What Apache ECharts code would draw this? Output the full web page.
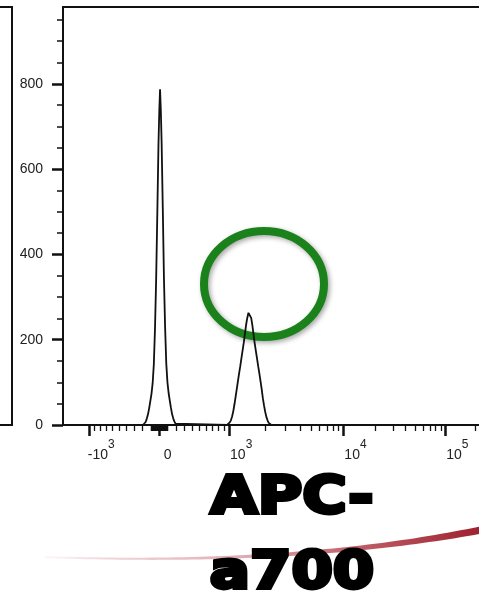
<!DOCTYPE html>
<html>
<head>
<meta charset="utf-8">
<title>APC-a700</title>
<script src="https://cdn.jsdelivr.net/npm/echarts@6/dist/echarts.min.js"></script>
<style>
  html, body { margin: 0; padding: 0; background: #ffffff; }
  #chart { width: 479px; height: 598px; }
</style>
</head>
<body>
<div id="chart"></div>
<script>
// Biexponential (logicle) display of the APC-a700 parameter
const TOP_OF_SCALE = 262144;   // largest data value on the axis
const SCALE_DECADES = 4.03;    // width of the display in decades
const LINEAR_DECADES = 0.716;  // width of the linear region around zero
const DISPLAY_CHANNELS = 1024; // histogram resolution
const X_LOW = -1670;           // data value at the left edge of the plot

// Histogram: display channel -> number of events
const channels = [
  0, 140, 144, 147, 150, 153, 156, 159, 162, 165, 168, 171, 174, 177, 180, 182,
  184, 186, 188, 191, 194, 197, 200, 203, 206, 209, 212, 215, 218, 221, 224, 228,
  356, 360, 363, 366, 369, 372, 375, 378, 381, 384, 387, 390, 393, 396, 399, 402,
  405, 408, 411, 413, 415, 418, 421, 424, 427, 430, 433, 436, 439, 442, 445, 448,
  451, 454, 457, 460, 463, 466, 470, 1023
];
const counts = [
  0, 0, 2, 7, 15, 25, 39, 56, 73, 98, 142, 225, 342, 497, 660, 735,
  787, 738, 664, 510, 345, 228, 144, 100, 75, 57, 40, 25, 15, 8, 3, 0,
  0, 3, 6, 11, 20, 32, 48, 66, 84, 103, 121, 138, 157, 175, 193, 214,
  235, 251, 263, 267, 264, 251, 234, 213, 192, 174, 156, 138, 121, 103, 84, 63,
  46, 31, 19, 11, 5, 2, 0, 0
];

// Axis ticks
const xMajorValues = [-1000, 0, 1000, 10000, 100000];
const xMajorBase = ['-10', '0', '10', '10', '10'];
const xMajorExp = ['3', '', '3', '4', '5'];
const yMajorValues = [0, 200, 400, 600, 800];
const yMinorValues = [50, 100, 150, 250, 300, 350, 450, 500, 550, 650, 700, 750, 850, 900, 950];
const Y_MAX = 980;

const AXIS_TITLE = ['APC-', 'a700'];

// ---- logicle transform ----
const LN10 = Math.LN10;
const wNat = LINEAR_DECADES * LN10;
const mNat = SCALE_DECADES * LN10;

function solveP(w) {
  let lo = 1, hi = 100;
  for (let i = 0; i < 200; i++) {
    const mid = (lo + hi) / 2;
    const v = 2 * mid * Math.log(mid) / (mid + 1);
    if (v < w) lo = mid; else hi = mid;
  }
  return (lo + hi) / 2;
}
const P = solveP(wNat);
const SCALE_C = TOP_OF_SCALE * Math.exp(-(mNat - wNat));

// display offset from zero (natural units) -> data value
function biex(u) {
  const a = Math.abs(u);
  const v = SCALE_C * (Math.exp(a) - P * P * Math.exp(-a / P) + P * P - 1);
  return u < 0 ? -v : v;
}
// data value -> display channel
function toChannel(x) {
  let lo = -mNat, hi = mNat;
  for (let i = 0; i < 200; i++) {
    const mid = (lo + hi) / 2;
    if (biex(mid) < x) lo = mid; else hi = mid;
  }
  const u = (lo + hi) / 2;
  return (u + wNat) / mNat * DISPLAY_CHANNELS;
}

// minor ticks: tenths of each decade, mirrored below zero in the linear part
function minorTickValues() {
  const pos = [];
  for (let k = 1; k <= 9; k++) pos.push(k * 10);
  for (let k = 1; k <= 9; k++) pos.push(k * 100);
  for (let k = 2; k <= 9; k++) pos.push(k * 1000);
  for (let k = 2; k <= 9; k++) pos.push(k * 10000);
  pos.push(200000);
  const neg = pos.filter(v => v < 1000).map(v => -v);
  return neg.concat(pos);
}

const xMin = toChannel(X_LOW);
const xMax = toChannel(TOP_OF_SCALE);
const xMajorCh = xMajorValues.map(toChannel);
const xMinorCh = minorTickValues().map(toChannel);

function xLabel(val) {
  let best = 0;
  xMajorCh.forEach((c, i) => { if (Math.abs(c - val) < Math.abs(xMajorCh[best] - val)) best = i; });
  if (!xMajorExp[best]) return '{z|' + xMajorBase[best] + '}';
  return '{b|' + xMajorBase[best] + '}{s|' + xMajorExp[best] + '}';
}

// red swoosh under the axis title
function swooshPoints() {
  const P0 = [45, 557], P1 = [300, 566], P2 = [486, 529];
  const N = 60, upper = [], lower = [];
  for (let i = 0; i <= N; i++) {
    const t = i / N;
    const x = (1 - t) * (1 - t) * P0[0] + 2 * (1 - t) * t * P1[0] + t * t * P2[0];
    const y = (1 - t) * (1 - t) * P0[1] + 2 * (1 - t) * t * P1[1] + t * t * P2[1];
    const dx = 2 * (1 - t) * (P1[0] - P0[0]) + 2 * t * (P2[0] - P1[0]);
    const dy = 2 * (1 - t) * (P1[1] - P0[1]) + 2 * t * (P2[1] - P1[1]);
    const len = Math.hypot(dx, dy);
    const nx = -dy / len, ny = dx / len;
    const h = 0.9 + 2.8 * Math.pow(t, 1.6);
    upper.push([x + nx * h, y + ny * h]);
    lower.push([x - nx * h, y - ny * h]);
  }
  return upper.concat(lower.reverse());
}

const LABEL_FONT = '"Liberation Sans", Arial, sans-serif';
const TITLE_FONT = 'bold 62px "DejaVu Sans", sans-serif';
const INK = '#111111';

const chart = echarts.init(document.getElementById('chart'), null, { renderer: 'canvas' });

// heavy two-line axis title, slightly condensed vertically
const titleText = (text, y, sx) => ({
  type: 'text', z: 3, x: 292, y: y, scaleX: sx, scaleY: 0.84,
  style: {
    text: text, x: 0, y: 0, font: TITLE_FONT,
    fill: '#000', stroke: '#000', lineWidth: 4.5, lineJoin: 'round',
    textAlign: 'center', textVerticalAlign: 'middle'
  }
});

chart.setOption({
  animation: false,
  backgroundColor: '#ffffff',
  grid: {
    left: 63, right: -8, top: 7, bottom: 173,
    show: true, borderColor: INK, borderWidth: 2, backgroundColor: 'transparent',
    containLabel: false, outerBoundsMode: 'none'
  },
  xAxis: [
    {
      type: 'value', position: 'bottom', min: xMin, max: xMax, gridIndex: 0,
      axisLine: { show: true, onZero: false, lineStyle: { color: INK, width: 2 } },
      axisTick: { show: true, customValues: xMajorCh, length: 11, lineStyle: { color: INK, width: 2.5 } },
      axisLabel: {
        show: true, customValues: xMajorCh, margin: 14, formatter: xLabel,
        rich: {
          b: { fontSize: 14, fontFamily: LABEL_FONT, color: '#222', lineHeight: 32, padding: [0, 0, 0, 24] },
          s: { fontSize: 12, fontFamily: LABEL_FONT, color: '#222', verticalAlign: 'top' },
          z: { fontSize: 14, fontFamily: LABEL_FONT, color: '#222', lineHeight: 32, padding: [0, 0, 0, 17] }
        }
      },
      splitLine: { show: false }
    },
    {
      type: 'value', position: 'bottom', min: xMin, max: xMax, gridIndex: 0,
      axisLine: { show: false, onZero: false },
      axisTick: { show: true, customValues: xMinorCh, length: 6, lineStyle: { color: INK, width: 1.3 } },
      axisLabel: { show: false },
      splitLine: { show: false }
    }
  ],
  yAxis: [
    {
      type: 'value', position: 'left', min: 0, max: Y_MAX, gridIndex: 0,
      axisLine: { show: true, onZero: false, lineStyle: { color: INK, width: 2 } },
      axisTick: { show: true, customValues: yMajorValues, length: 11, lineStyle: { color: INK, width: 2.5 } },
      axisLabel: {
        show: true, customValues: yMajorValues, margin: 20,
        fontSize: 14, fontFamily: LABEL_FONT, color: '#222'
      },
      splitLine: { show: false }
    },
    {
      type: 'value', position: 'left', min: 0, max: Y_MAX, gridIndex: 0,
      axisLine: { show: false, onZero: false },
      axisTick: { show: true, customValues: yMinorValues, length: 6, lineStyle: { color: INK, width: 1.5 } },
      axisLabel: { show: false },
      splitLine: { show: false }
    }
  ],
  series: [
    {
      type: 'line', xAxisIndex: 0, yAxisIndex: 0,
      data: channels.map((c, i) => [c, counts[i]]),
      showSymbol: false, symbol: 'none', smooth: false,
      lineStyle: { color: INK, width: 1.8 },
      z: 5
    }
  ],
  graphic: [
    // neighbouring panel
    { type: 'rect', z: 1, shape: { x: -20, y: 7, width: 32, height: 418 },
      style: { fill: 'none', stroke: INK, lineWidth: 2 } },
    // highlight around the positive population
    { type: 'ellipse', z: 1, shape: { cx: 264, cy: 284, rx: 60, ry: 53 },
      style: { fill: 'none', stroke: '#1B821B', lineWidth: 8,
        shadowBlur: 5, shadowColor: 'rgba(0,0,0,0.35)', shadowOffsetX: 2, shadowOffsetY: 2 } },
    // swoosh
    { type: 'polygon', z: 1, shape: { points: swooshPoints() },
      style: { fill: { type: 'linear', x: 0, y: 0, x2: 1, y2: 0, colorStops: [
        { offset: 0, color: 'rgba(240,215,220,0.25)' },
        { offset: 0.15, color: 'rgba(236,204,209,0.85)' },
        { offset: 0.45, color: 'rgba(224,172,179,1)' },
        { offset: 0.7, color: '#C0606A' },
        { offset: 1, color: '#9C1F2B' }
      ] } } },
    // axis title
    titleText(AXIS_TITLE[0], 499.7, 0.98),
    titleText(AXIS_TITLE[1], 574.7, 0.96)
  ]
});
</script>
</body>
</html>
